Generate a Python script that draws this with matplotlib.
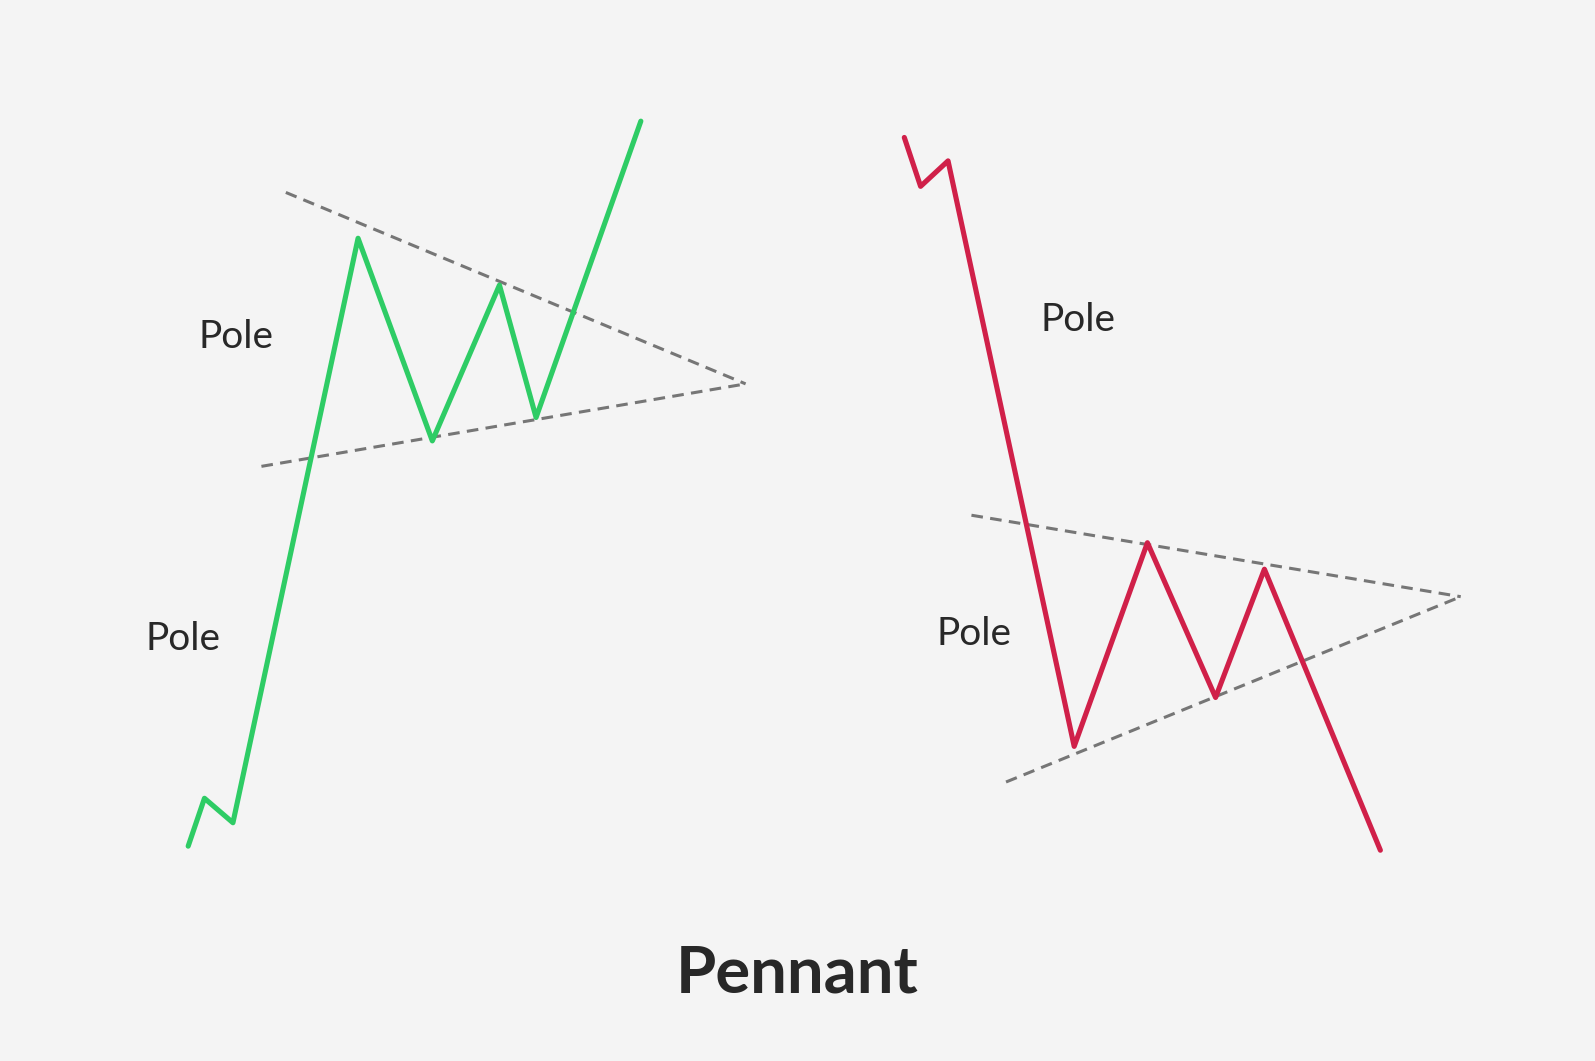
import matplotlib.pyplot as plt

# picture coordinates (x to the right, y downwards)
bull_x = [185, 201, 229, 352, 425, 491, 527, 630]
bull_y = [831, 784, 808, 234, 433, 280, 410, 119]
bear_x = [889, 905, 932, 1056, 1128, 1195, 1243, 1357]
bear_y = [135, 183, 158, 733, 533, 685, 559, 835]

bull_upper_x = [281, 733]
bull_upper_y = [189, 377]
bull_lower_x = [257, 733]
bull_lower_y = [458, 377]
bear_upper_x = [955, 1436]
bear_upper_y = [506, 586]
bear_lower_x = [989, 1436]
bear_lower_y = [768, 586]

labels = ["Pole", "Pole", "Pole", "Pole"]
label_x = [232, 180, 1060, 958]
label_y = [331, 628, 314, 623]

bg = "#f4f4f4"
fig = plt.figure(figsize=(15.95, 10.61), dpi=100, facecolor=bg)
ax = fig.add_axes([0, 0, 1, 1])
ax.set_facecolor(bg)
ax.set_xlim(0, 1568)
ax.set_ylim(1042, 0)
ax.axis("off")

dash = dict(color="#767676", lw=2.2, linestyle=(0, (3.8, 2.4)))
for xs, ys in [(bull_upper_x, bull_upper_y), (bull_lower_x, bull_lower_y),
               (bear_upper_x, bear_upper_y), (bear_lower_x, bear_lower_y)]:
    ax.plot(xs, ys, **dash)

ax.plot(bull_x, bull_y, color="#2ecc65", lw=3.7, solid_joinstyle="round", solid_capstyle="round")
ax.plot(bear_x, bear_y, color="#d02049", lw=3.7, solid_joinstyle="round", solid_capstyle="round")

for t, x, y in zip(labels, label_x, label_y):
    ax.text(x, y, t, ha="center", va="center", fontsize=28, color="#282828", family="Lato")

ax.text(784, 957, "Pennant", ha="center", va="center", fontsize=47, fontweight="bold",
        color="#282828", family="Lato")

fig.savefig("out.png", dpi=100, facecolor=bg)
